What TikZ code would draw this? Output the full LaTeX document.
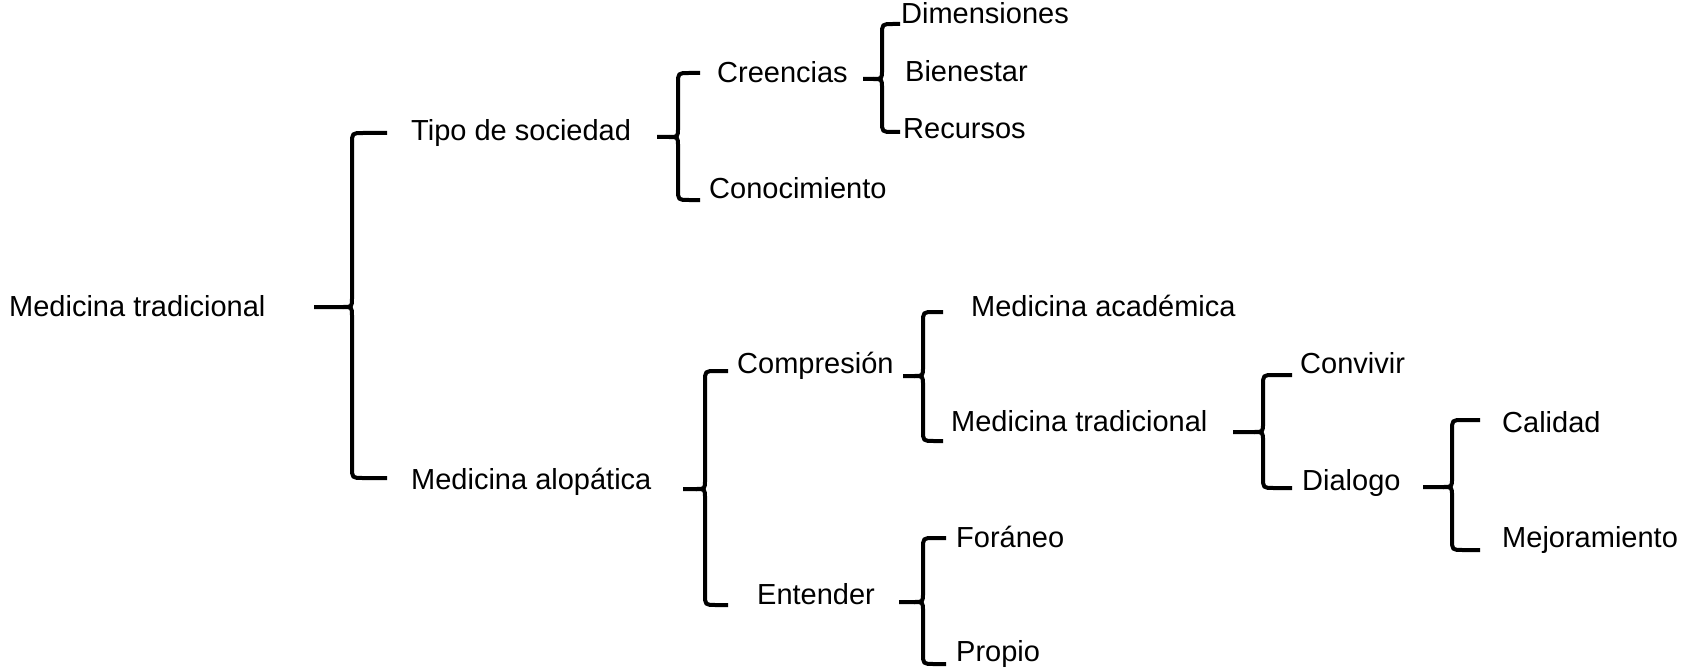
\documentclass[tikz,border=0pt]{standalone}
\usepackage{fontspec}
\setmainfont{Liberation Sans}
\tikzset{
  lbl/.style={anchor=base west, inner sep=0pt, font=\fontsize{29}{34}\selectfont},
  bracestyle/.style={line width=4pt, line cap=butt, line join=round}
}
% #1 xtip, #2 ymid, #3 xv, #4 ytop, #5 ybot, #6 xend
\newcommand\mybrc[6]{%
  \draw[bracestyle] (#6,#4) -- (#3+11,#4) .. controls (#3,#4) .. (#3,#4+11) -- (#3,#2-9) .. controls (#3,#2) .. (#3-9,#2) -- (#1,#2);
  \draw[bracestyle] (#3-9,#2) .. controls (#3,#2) .. (#3,#2+9) -- (#3,#5-11) .. controls (#3,#5) .. (#3+11,#5) -- (#6,#5);}
\begin{document}
\begin{tikzpicture}[x=1pt,y=-1pt]
\useasboundingbox (0,0) rectangle (1693,671);
\fill[white] (0,0) rectangle (1693,671);
% labels
\node[lbl] (mt)   at (9,316)   {Medicina tradicional};
\node[lbl] (tipo) at (411,141) {Tipo de sociedad};
\node[lbl] (alo)  at (411,489) {Medicina alopática};
\node[lbl] (cre)  at (717,83)  {Creencias};
\node[lbl] (con)  at (709,198) {Conocimiento};
\node[lbl] (dim)  at (901,24)  {Dimensiones};
\node[lbl] (bie)  at (905,82)  {Bienestar};
\node[lbl] (rec)  at (903,139) {Recursos};
\node[lbl] (com)  at (737,373) {Compresión};
\node[lbl] (ent)  at (757,604) {Entender};
\node[lbl] (aca)  at (971,316) {Medicina académica};
\node[lbl] (mt2)  at (951,431) {Medicina tradicional};
\node[lbl] (for)  at (956,547) {Foráneo};
\node[lbl] (pro)  at (956,661) {Propio};
\node[lbl] (conv) at (1300,373) {Convivir};
\node[lbl] (dia)  at (1302,490) {Dialogo};
\node[lbl] (cal)  at (1502,432) {Calidad};
\node[lbl] (mej)  at (1502,547) {Mejoramiento};
% braces
\mybrc{314}{307}{352}{133}{478}{387}
\mybrc{657}{137}{678}{73}{200}{700}
\mybrc{863}{79}{882}{24}{132}{900}
\mybrc{683}{489}{705}{371}{605}{728}
\mybrc{903}{376}{923}{312}{441}{943}
\mybrc{899}{602}{923}{538}{664}{946}
\mybrc{1233}{432}{1263}{375}{488}{1292}
\mybrc{1423}{487}{1452}{420}{550}{1480}
\end{tikzpicture}
\end{document}
